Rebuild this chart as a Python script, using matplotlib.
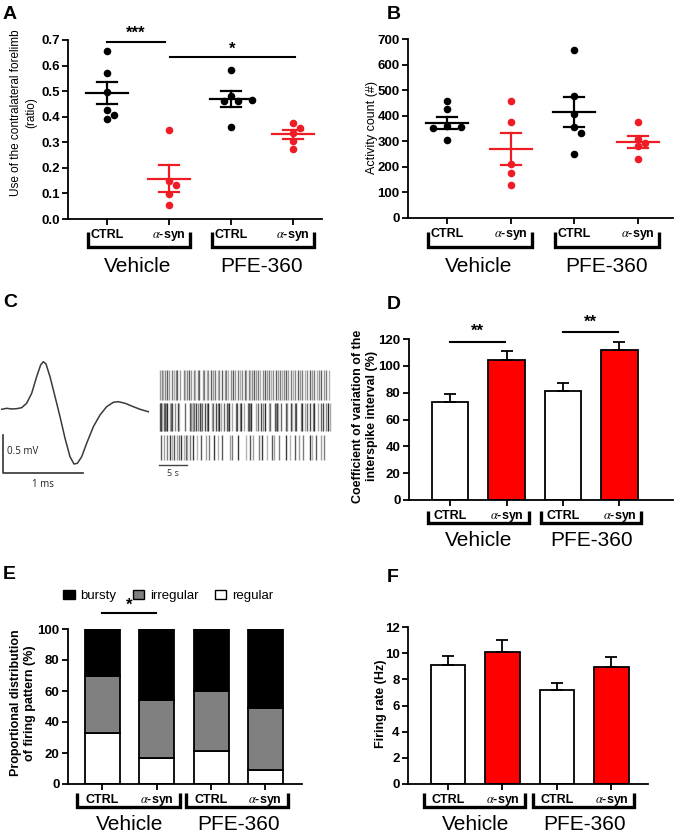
import matplotlib
matplotlib.use('Agg')
import matplotlib.pyplot as plt
from matplotlib.patches import Patch

plt.rcParams['mathtext.fontset'] = 'stix'
NARROW = ['Liberation Sans Narrow', 'Liberation Sans', 'DejaVu Sans']
ARIAL = ['Liberation Sans', 'DejaVu Sans']
plt.rcParams['font.family'] = NARROW

# ---------------- data ----------------
groups = ['Vehicle', 'PFE-360']
conditions = ['CTRL', r'$\alpha$-syn', 'CTRL', r'$\alpha$-syn']
RED = '#ee1c24'
point_colors = ['black', RED, 'black', RED]

# A: use of contralateral forelimb (ratio)
forelimb = [
    [0.656, 0.571, 0.495, 0.425, 0.408, 0.391],
    [0.349, 0.150, 0.134, 0.099, 0.056],
    [0.584, 0.482, 0.460, 0.460, 0.467, 0.359],
    [0.375, 0.356, 0.336, 0.305, 0.274],
]
forelimb_mean = [0.492, 0.158, 0.469, 0.331]
forelimb_sem = [0.043, 0.052, 0.031, 0.019]

# B: activity count
activity = [
    [456, 426, 361, 355, 352, 306],
    [459, 374, 211, 176, 130],
    [658, 478, 407, 355, 332, 252],
    [376, 310, 293, 280, 232],
]
activity_mean = [372, 270, 414, 297]
activity_sem = [23, 62, 58, 24]

# C: example waveform (ms, mV)
wave_t = [0.021, 0.083, 0.146, 0.208, 0.271, 0.333, 0.396, 0.458, 0.508, 0.542,
          0.575, 0.625, 0.688, 0.750, 0.813, 0.875, 0.925, 0.967, 1.021, 1.083,
          1.167, 1.250, 1.333, 1.417, 1.479, 1.563, 1.667, 1.750, 1.854]
wave_v = [-0.004, 0.009, 0.000, 0.004, 0.017, 0.075, 0.206, 0.425, 0.579, 0.622,
          0.592, 0.425, 0.162, -0.101, -0.386, -0.628, -0.724, -0.715, -0.628, -0.452,
          -0.233, -0.079, 0.030, 0.088, 0.096, 0.075, 0.030, -0.004, -0.036]
# C: spike trains (s)
spikes_regular = [0.2, 0.5, 0.8, 1.0, 1.4, 1.7, 2.3, 2.6, 3.0, 3.3, 3.7, 4.4, 4.7, 5.0,
                  5.3, 5.8, 6.2, 6.5, 6.9, 7.2, 7.8, 8.1, 8.5, 8.8, 9.3, 9.6, 10.0, 10.5,
                  10.8, 11.3, 11.7, 12.0, 12.4, 12.9, 13.3, 13.6, 14.1, 14.5, 14.8, 15.3,
                  15.6, 16.0, 16.3, 16.6, 17.0, 17.3, 17.7, 18.1, 18.6, 18.9, 19.3, 19.7,
                  20.0, 20.4, 20.9, 21.3, 21.6, 22.0, 22.4, 22.7, 23.1, 23.6, 24.0, 24.3,
                  24.8, 25.2, 25.6, 26.0, 26.5, 26.9, 27.3, 27.7, 28.2, 28.6, 29.0, 29.4,
                  29.9, 30.3]
spikes_irregular = [0.1, 0.3, 0.4, 0.6, 0.9, 1.1, 1.2, 1.5, 2.0, 2.2, 2.3, 2.8, 3.4, 3.6,
                    4.6, 5.5, 5.7, 6.0, 6.1, 6.3, 6.6, 7.0, 7.4, 7.5, 7.7, 8.3, 8.6, 8.8,
                    9.5, 9.7, 10.1, 10.6, 10.8, 11.0, 11.6, 12.2, 12.4, 12.5, 13.1, 13.7,
                    13.9, 14.4, 14.6, 15.2, 15.9, 16.1, 16.3, 16.5, 17.4, 17.6, 18.3, 18.5,
                    18.9, 19.6, 19.8, 20.7, 20.9, 21.0, 21.2, 21.8, 22.6, 22.8, 23.5, 23.7,
                    24.2, 24.5, 25.3, 25.5, 26.1, 26.4, 26.9, 27.5, 27.7, 28.4, 28.9, 29.2,
                    29.8, 30.2, 30.5]
spikes_bursty = [0.3, 0.9, 1.5, 1.9, 2.4, 2.7, 3.2, 3.5, 3.9, 4.4, 4.8, 5.0, 5.6, 6.1, 6.8,
                 7.5, 8.4, 9.0, 9.9, 10.5, 11.3, 12.6, 13.1, 14.1, 15.5, 16.2, 16.8, 17.9,
                 18.4, 19.2, 20.1, 20.5, 21.4, 22.6, 23.4, 24.2, 25.0, 25.8, 26.9, 27.3,
                 28.1, 28.9, 29.4]

# D: coefficient of variation of ISI (%)
cv_mean = [73, 104, 81, 112]
cv_err = [6, 7, 6, 6]

# E: firing pattern distribution (%)
pattern_names = ['bursty', 'irregular', 'regular']
pattern_regular = [33, 17, 21, 9]
pattern_irregular = [37, 37, 39, 40]
pattern_bursty = [30, 46, 40, 51]

# F: firing rate (Hz)
rate_mean = [9.1, 10.1, 7.2, 8.95]
rate_err = [0.7, 0.9, 0.5, 0.75]

# ---------------- layout helpers ----------------
W, H = 682, 836
fig = plt.figure(figsize=(W / 100, H / 100), dpi=100)


def ax_px(l, t, r, b):
    ax = fig.add_axes([l / W, 1 - b / H, (r - l) / W, (b - t) / H])
    ax._hpx = b - t
    ax._wpx = r - l
    return ax


def ftext(x, y, s, **kw):
    return fig.text(x / W, 1 - y / H, s, **kw)


def style_axis(ax, ticklab=9.5):
    for s in ['top', 'right']:
        ax.spines[s].set_visible(False)
    for s in ['left', 'bottom']:
        ax.spines[s].set_linewidth(1.3)
    ax.tick_params(axis='both', width=1.3, length=4, direction='out')
    ax.tick_params(axis='y', labelsize=ticklab, pad=2)
    ax.tick_params(axis='x', labelsize=9, pad=3)
    ax.set_xticks(range(4))
    ax.set_xticklabels(conditions)
    for lab in ax.get_xticklabels() + ax.get_yticklabels():
        lab.set_fontweight('bold')


def groups_below(ax, top, bot, glab, left=19, right=21):
    tr = ax.get_xaxis_transform()
    h = ax._hpx
    w = ax._wpx
    x0, x1 = ax.get_xlim()
    ppu = w / (x1 - x0)
    for gi, g in enumerate(groups):
        a = 2 * gi - left / ppu
        b = 2 * gi + 1 + right / ppu
        ax.plot([a, a, b, b], [-top / h, -bot / h, -bot / h, -top / h], transform=tr,
                color='black', lw=2.4, clip_on=False, solid_capstyle='butt',
                solid_joinstyle='miter')
        ax.text(2 * gi + 0.5, -glab / h, g, transform=tr, ha='center', va='center',
                fontsize=15, family=ARIAL)


def sig(ax, x0, x1, y, ystar, s):
    ax.plot([x0, x1], [y, y], color='black', lw=1.5, clip_on=False)
    ax.text((x0 + x1) / 2, ystar, s, ha='center', va='center', fontsize=12,
            fontweight='bold', family=ARIAL, clip_on=False)


def swarm(values, ppu_x, ppu_y, diam=7.5):
    placed = []
    offs = []
    for v in values:
        for k in [0, 1, -1, 2, -2, 3, -3]:
            dx = k * diam * 0.95
            ok = all(((dx - px) ** 2 + ((v - pv) * ppu_y) ** 2) ** 0.5 >= diam for px, pv in placed)
            if ok:
                break
        placed.append((dx, v))
        offs.append(dx / ppu_x)
    return offs


def dot_panel(ax, data, means, sems):
    x0, x1 = ax.get_xlim()
    y0, y1 = ax.get_ylim()
    ppu_x = ax._wpx / (x1 - x0)
    ppu_y = ax._hpx / (y1 - y0)
    for i, vals in enumerate(data):
        offs = swarm(vals, ppu_x, ppu_y)
        ax.scatter([i + o for o in offs], vals, s=30, color=point_colors[i], zorder=3,
                   linewidths=0, clip_on=False)
        mw = 21 / ppu_x
        cw = 10 / ppu_x
        c = point_colors[i]
        ax.plot([i - mw, i + mw], [means[i], means[i]], color=c, lw=1.6, zorder=4)
        ax.plot([i, i], [means[i] - sems[i], means[i] + sems[i]], color=c, lw=1.6, zorder=4)
        for yy in (means[i] - sems[i], means[i] + sems[i]):
            ax.plot([i - cw, i + cw], [yy, yy], color=c, lw=1.6, zorder=4)


# ---------------- Panel A ----------------
axA = ax_px(68, 40, 322, 219)
axA.set_xlim(-0.629, 3.468)
axA.set_ylim(0, 0.7)
axA.set_yticks([0, 0.1, 0.2, 0.3, 0.4, 0.5, 0.6, 0.7])
axA.set_yticklabels(['0.0', '0.1', '0.2', '0.3', '0.4', '0.5', '0.6', '0.7'])
style_axis(axA)
dot_panel(axA, forelimb, forelimb_mean, forelimb_sem)
sig(axA, 0, 0.94, 0.693, 0.725, '***')
sig(axA, 1.02, 3.03, 0.635, 0.665, '*')
groups_below(axA, 13, 28, 47)
ftext(24, 113, 'Use of the contralateral forelimb\n(ratio)', rotation=90, ha='center',
      va='center', fontsize=8.5, multialignment='center', linespacing=1.35)

# ---------------- Panel B ----------------
axB = ax_px(408, 39, 673, 218)
axB.set_xlim(-0.61, 3.55)
axB.set_ylim(0, 700)
axB.set_yticks(range(0, 701, 100))
style_axis(axB)
dot_panel(axB, activity, activity_mean, activity_sem)
groups_below(axB, 14, 29, 48)
ftext(372, 127, 'Activity count (#)', rotation=90, ha='center', va='center', fontsize=9)

# ---------------- Panel C ----------------
axW = ax_px(0, 350, 160, 490)
axW.set_xlim(0, 2.0)
axW.set_ylim(-1.066, 0.776)
axW.axis('off')
axW.plot(wave_t, wave_v, color='#3a3a3a', lw=1.1)
axW.plot([0.0375, 0.0375, 1.0375], [-0.342, -0.842, -0.842], color='#333333', lw=1.2,
         clip_on=False)
axW.text(0.09, -0.566, '0.5 mV', fontsize=7, family=['Open Sans', 'DejaVu Sans'],
         ha='left', va='center', color='#222222')
axW.text(0.54, -0.99, '1 ms', fontsize=7, family=['Open Sans', 'DejaVu Sans'],
         ha='center', va='center', color='#222222')

axS = ax_px(150, 360, 340, 490)
axS.set_xlim((150 - 159) / 5.6, (340 - 159) / 5.6)
axS.set_ylim(490, 360)
axS.axis('off')
rows = [(spikes_regular, 370, 400, ['#9a9a9a', '#7a7a7a', '#b0b0b0', '#8a8a8a', '#5e5e5e']),
        (spikes_irregular, 403, 431, ['#4a4a4a', '#8c8c8c', '#2e2e2e', '#a8a8a8', '#6a6a6a']),
        (spikes_bursty, 435, 460, ['#5a5a5a', '#a0a0a0', '#7c7c7c', '#3c3c3c', '#b4b4b4'])]
for times, top, bot, shades in rows:
    cols = [shades[k % len(shades)] for k in range(len(times))]
    axS.vlines(times, bot, top, colors=cols, lw=1.0)
axS.plot([0, 5], [465, 465], color='#444444', lw=1.0)
axS.text(2.5, 473, '5 s', fontsize=6.5, family=['Open Sans', 'DejaVu Sans'], ha='center',
         va='center', color='#333333')

# ---------------- Panel D ----------------
axD = ax_px(409, 339, 673, 500)
axD.set_xlim(-0.726, 3.947)
axD.set_ylim(0, 120)
axD.set_yticks(range(0, 121, 20))
style_axis(axD)
bar_colors = ['white', '#ff0000', 'white', '#ff0000']
axD.bar(range(4), cv_mean, width=0.64, color=bar_colors, edgecolor='black', lw=1.3, zorder=2)
axD.errorbar(range(4), cv_mean, yerr=[[0] * 4, cv_err], fmt='none', ecolor='black',
             elinewidth=1.3, capsize=4.5, capthick=1.3, zorder=3)
sig(axD, 0, 0.97, 118.0, 125.5, '**')
sig(axD, 2.0, 2.98, 125.4, 132.5, '**')
groups_below(axD, 11, 23, 41, left=22, right=22)
ftext(365, 416, 'Coefficient of variation of the\ninterspike interval (%)', rotation=90,
      ha='center', va='center', fontsize=9, fontweight='bold', multialignment='center')

# ---------------- Panel E ----------------
axE = ax_px(68, 629, 302, 784)
axE.set_xlim(-0.635, 3.674)
axE.set_ylim(0, 100)
axE.set_yticks(range(0, 101, 20))
style_axis(axE)
x = range(4)
axE.bar(x, pattern_regular, width=0.645, color='white', edgecolor='black', lw=1.3)
axE.bar(x, pattern_irregular, bottom=pattern_regular, width=0.645, color='#808080',
        edgecolor='black', lw=1.3)
bott = [a + b for a, b in zip(pattern_regular, pattern_irregular)]
axE.bar(x, pattern_bursty, bottom=bott, width=0.645, color='black', edgecolor='black', lw=1.3)
sig(axE, 0, 0.98, 110.3, 115.0, '*')
handles = [Patch(facecolor='black', edgecolor='black'),
           Patch(facecolor='#808080', edgecolor='black'),
           Patch(facecolor='white', edgecolor='black')]
axE.legend(handles, pattern_names, ncol=3, loc='center left', bbox_to_anchor=(-0.02, 1.213),
           frameon=False, handlelength=0.85, handleheight=0.75, handletextpad=0.45,
           columnspacing=1.25, borderaxespad=0, borderpad=0,
           prop={'family': ARIAL, 'size': 9.5})
groups_below(axE, 9, 23, 41, left=25, right=23)
ftext(23, 703, 'Proportional distribution\nof firing pattern (%)', rotation=90, ha='center',
      va='center', fontsize=9, fontweight='bold', multialignment='center')

# ---------------- Panel F ----------------
axF = ax_px(408, 627, 648, 784)
axF.set_xlim(-0.734, 3.67)
axF.set_ylim(0, 12)
axF.set_yticks(range(0, 13, 2))
style_axis(axF)
axF.bar(range(4), rate_mean, width=0.64, color=bar_colors, edgecolor='black', lw=1.3, zorder=2)
axF.errorbar(range(4), rate_mean, yerr=[[0] * 4, rate_err], fmt='none', ecolor='black',
             elinewidth=1.3, capsize=4.5, capthick=1.3, zorder=3)
groups_below(axF, 9, 23, 41, left=24, right=23)
ftext(381, 704, 'Firing rate (Hz)', rotation=90, ha='center', va='center', fontsize=9,
      fontweight='bold')

# ---------------- panel letters ----------------
for lab, xx, yy in [('A', 3, 6), ('B', 387, 6), ('C', 3, 294), ('D', 387, 296),
                    ('E', 3, 566), ('F', 387, 569)]:
    ftext(xx, yy, lab, fontsize=14, fontweight='bold', family=ARIAL, ha='left', va='top')

fig.savefig('out.png', dpi=100)
